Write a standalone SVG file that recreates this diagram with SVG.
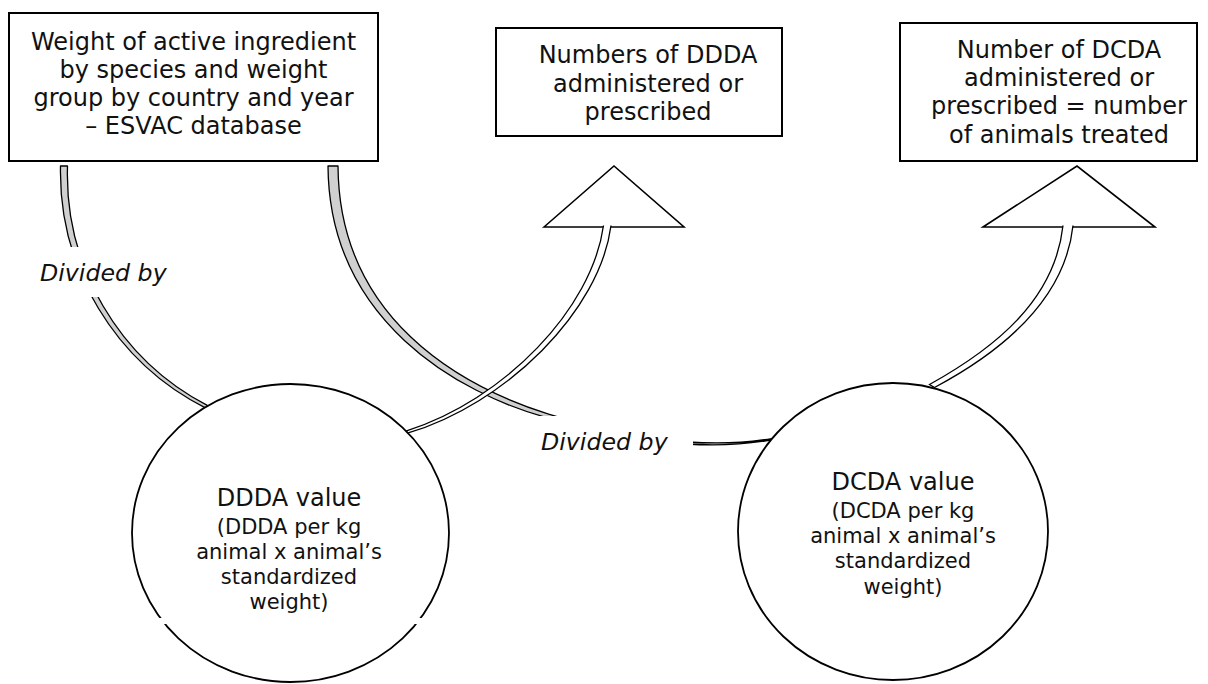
<svg xmlns="http://www.w3.org/2000/svg" width="1208" height="684" viewBox="0 0 1208 684">
<style>
.box{fill:#fff;stroke:#000;stroke-width:2}
.t{font-family:"DejaVu Sans",Verdana,sans-serif;font-size:24px;fill:#111;text-anchor:middle}
.s{font-size:21px}
.lbl{font-family:"DejaVu Sans",Verdana,sans-serif;font-style:italic;font-size:23.7px;fill:#111}
.grey{fill:#d0d0d0;stroke:#000;stroke-width:1.3;stroke-linejoin:round}
.shaft{fill:#fff;stroke:#000;stroke-width:1.3}
.head{fill:#fff;stroke:#000;stroke-width:1.6}
.circ{fill:#fff;stroke:#000;stroke-width:1.8}
.bg{fill:#fff}
</style>
<rect width="1208" height="684" fill="#fff"/>
<g id="connectors">
  <path class="grey" d="M60.5,166 A265,265 0 0,0 206.3,408.3 L207.7,405.7 A261,261 0 0,1 67.5,166 Z"/>
  <path class="grey" d="M328,166 C329,321 459,393.5 547.4,417.9 C614.6,438.5 700,453 773,439.7 L773,438.3 C700,451 615.4,435.5 548.6,414.1 C461,386.5 339,319 338,166 Z"/>
  <path class="head" d="M544,227 L614,166 L684,227 Z"/>
  <path class="shaft" d="M603.5,225.5 C592,309 504,400 406.6,430.8 L407.4,433.2 C506,404 600,311 611,225.5"/>
  <path class="head" d="M983,227 L1077,166 L1155,227 Z"/>
  <path class="shaft" d="M1063,225.5 C1055,299 997,347 929.5,384.5 L934.5,387.5 C1001,352 1065,301 1073,225.5"/>
  <rect class="bg" x="30" y="247" width="145" height="50"/>
  <rect class="bg" x="538" y="416" width="155" height="50"/>
  <text class="lbl" x="40" y="281">Divided by</text>
  <text class="lbl" x="541" y="450">Divided by</text>
</g>
<g id="box-esvac">
  <rect class="box" x="9" y="13" width="369" height="148"/>
  <text class="t" x="193.5" y="50">Weight of active ingredient</text>
  <text class="t" x="193.5" y="77.5">by species and weight</text>
  <text class="t" x="193.5" y="105.5">group by country and year</text>
  <text class="t" x="193.5" y="133.5">– ESVAC database</text>
</g>
<g id="box-ddda">
  <rect class="box" x="496" y="28" width="286" height="108"/>
  <text class="t" x="648" y="63">Numbers of DDDA</text>
  <text class="t" x="648" y="91.5">administered or</text>
  <text class="t" x="648" y="120">prescribed</text>
</g>
<g id="box-dcda">
  <rect class="box" x="900" y="23" width="297" height="138"/>
  <text class="t" x="1059" y="58">Number of DCDA</text>
  <text class="t" x="1059" y="86">administered or</text>
  <text class="t" x="1059" y="114">prescribed = number</text>
  <text class="t" x="1059" y="142.5">of animals treated</text>
</g>
<g id="circle-ddda">
  <ellipse class="circ" cx="290.5" cy="533" rx="158.5" ry="149"/>
  <rect class="bg" x="145" y="618" width="290" height="6"/>
  <text class="t" x="289" y="506">DDDA value</text>
  <text class="t s" x="289" y="533.5">(DDDA per kg</text>
  <text class="t s" x="289" y="559">animal x animal’s</text>
  <text class="t s" x="289" y="584">standardized</text>
  <text class="t s" x="289" y="609">weight)</text>
</g>
<g id="circle-dcda">
  <ellipse class="circ" cx="893" cy="531.5" rx="155" ry="148.5"/>
  <text class="t" x="903" y="490">DCDA value</text>
  <text class="t s" x="903" y="518">(DCDA per kg</text>
  <text class="t s" x="903" y="543">animal x animal’s</text>
  <text class="t s" x="903" y="568">standardized</text>
  <text class="t s" x="903" y="593.5">weight)</text>
</g>
</svg>
